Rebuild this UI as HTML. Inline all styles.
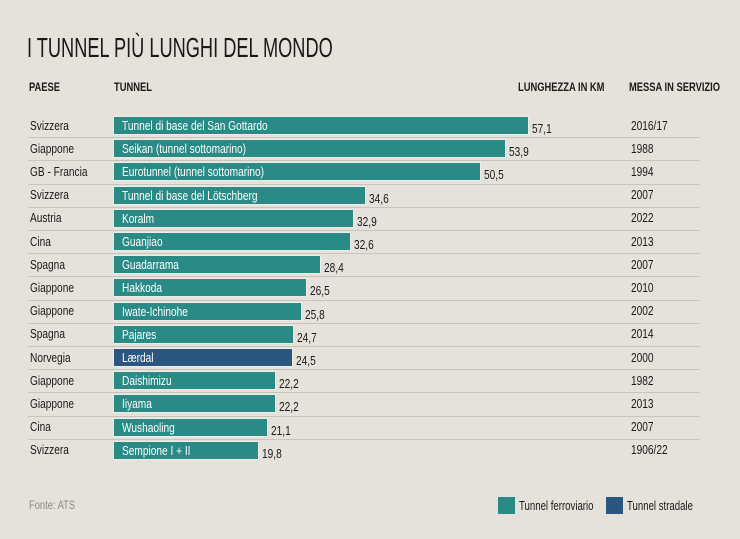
<!DOCTYPE html>
<html><head><meta charset="utf-8"><style>
body{margin:0}
#c{position:relative;width:740px;height:539px;background:#e5e2db;overflow:hidden;font-family:"Liberation Sans",sans-serif;color:#1a1a1a}
.t{position:absolute;white-space:nowrap;transform-origin:0 0;transform:scaleX(.78)}
.bar{position:absolute;left:114px;height:17px;background:#2a8a85;box-shadow:0 0 0 1px rgba(255,255,255,.35)}
.bar.r{background:#2b5680}
.bl{position:absolute;left:8px;top:1px;color:#fff;font-size:13px;white-space:nowrap;transform-origin:0 0;transform:scaleX(.78)}
.sep{position:absolute;left:28px;width:672px;height:1px;background:#c9c5bc}
.h{font-size:12px;font-weight:bold;top:80px}
.v{font-size:13px}
</style></head><body><div id="c">
<div class="t" style="left:27px;top:32px;font-size:28px;transform:scaleX(.65)">I TUNNEL PIÙ LUNGHI DEL MONDO</div>
<div class="t h" style="left:29px">PAESE</div>
<div class="t h" style="left:114px">TUNNEL</div>
<div class="t h" style="left:518px">LUNGHEZZA IN KM</div>
<div class="t h" style="left:629px">MESSA IN SERVIZIO</div>
<div id="rows"></div>
<div class="t" style="left:29px;top:498px;font-size:12px;color:#888">Fonte: ATS</div>
<div style="position:absolute;left:498px;top:497px;width:17px;height:17px;background:#2a8a85"></div>
<div class="t" style="left:519px;top:498px;font-size:13px;transform:scaleX(.74)">Tunnel ferroviario</div>
<div style="position:absolute;left:606px;top:497px;width:17px;height:17px;background:#2b5680"></div>
<div class="t" style="left:627px;top:498px;font-size:13px;transform:scaleX(.74)">Tunnel stradale</div>
</div>
<script>
var d=[["Svizzera","Tunnel di base del San Gottardo",57.1,"2016/17"],["Giappone","Seikan (tunnel sottomarino)",53.9,"1988"],["GB - Francia","Eurotunnel (tunnel sottomarino)",50.5,"1994"],["Svizzera","Tunnel di base del Lötschberg",34.6,"2007"],["Austria","Koralm",32.9,"2022"],["Cina","Guanjiao",32.6,"2013"],["Spagna","Guadarrama",28.4,"2007"],["Giappone","Hakkoda",26.5,"2010"],["Giappone","Iwate-Ichinohe",25.8,"2002"],["Spagna","Pajares",24.7,"2014"],["Norvegia","Lærdal",24.5,"2000"],["Giappone","Daishimizu",22.2,"1982"],["Giappone","Iiyama",22.2,"2013"],["Cina","Wushaoling",21.1,"2007"],["Svizzera","Sempione I + II",19.8,"1906/22"]];
var h="";d.forEach(function(r,i){var top=117+23.2*i,w=r[2]*7.25;
if(i>0)h+='<div class="sep" style="top:'+(top-3).toFixed(1)+'px"></div>';
h+='<div class="t v" style="left:30px;top:'+(top+0.5)+'px">'+r[0]+'</div>';
h+='<div class="bar'+(i==10?' r':'')+'" style="top:'+top+'px;width:'+w.toFixed(1)+'px"><div class="bl">'+r[1]+'</div></div>';
h+='<div class="t v" style="left:'+(114+w+4).toFixed(1)+'px;top:'+(top+4)+'px">'+r[2].toFixed(1).replace(".",",")+'</div>';
h+='<div class="t v" style="left:631px;top:'+(top+0.5)+'px">'+r[3]+'</div>';});
document.getElementById("rows").innerHTML=h;
</script>
</body></html>
